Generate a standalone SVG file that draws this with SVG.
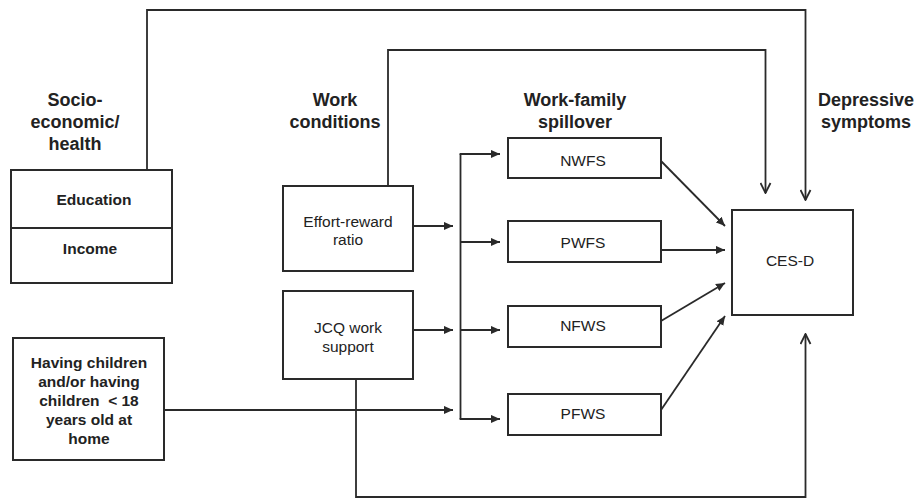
<svg xmlns="http://www.w3.org/2000/svg" width="917" height="498" viewBox="0 0 917 498">
<defs>
<marker id="tri" viewBox="0 0 10 10" refX="10" refY="5" markerWidth="9" markerHeight="9" markerUnits="userSpaceOnUse" orient="auto"><path d="M0,0.5 L10,5 L0,9.5 z" fill="#2a2a2a"/></marker>
<marker id="chev" viewBox="0 0 12 12" refX="11" refY="6" markerWidth="12" markerHeight="12" markerUnits="userSpaceOnUse" orient="auto"><path d="M1,1 L11,6 L1,11" fill="none" stroke="#2a2a2a" stroke-width="1.8"/></marker>
</defs>
<style>
.box{fill:#fff;stroke:#2a2a2a;stroke-width:2}
.ln{fill:none;stroke:#2a2a2a;stroke-width:1.8}
.hd{font-family:"Liberation Sans",Arial,sans-serif;font-weight:bold;font-size:18px;fill:#222;text-anchor:middle}
.bt{font-family:"Liberation Sans",Arial,sans-serif;font-weight:bold;font-size:15.5px;fill:#222;text-anchor:middle}
.rt{font-family:"Liberation Sans",Arial,sans-serif;font-size:15.5px;fill:#222;text-anchor:middle}
</style>
<rect width="917" height="498" fill="#fff"/>
<g id="headers">
<text class="hd" x="75" y="106">Socio-</text>
<text class="hd" x="75" y="128">economic/</text>
<text class="hd" x="75" y="150">health</text>
<text class="hd" x="335" y="106">Work</text>
<text class="hd" x="335" y="128">conditions</text>
<text class="hd" x="575" y="106">Work-family</text>
<text class="hd" x="575" y="128">spillover</text>
<text class="hd" x="866" y="106">Depressive</text>
<text class="hd" x="866" y="128">symptoms</text>
</g>
<g id="connectors">
<path class="ln" d="M147,170 V10 H805.5 V200" marker-end="url(#chev)"/>
<path class="ln" d="M388,186 V50 H765.5 V193" marker-end="url(#chev)"/>
<path class="ln" d="M356,379 V497 H805.5 V334" marker-end="url(#chev)"/>
<path class="ln" d="M413,226 H453" marker-end="url(#tri)"/>
<path class="ln" d="M413,330 H453" marker-end="url(#tri)"/>
<path class="ln" d="M164,410 H453" marker-end="url(#tri)"/>
<path class="ln" d="M460.5,154 V419"/>
<path class="ln" d="M459.6,154 H500" marker-end="url(#tri)"/>
<path class="ln" d="M460.5,242 H500" marker-end="url(#tri)"/>
<path class="ln" d="M460.5,330 H500" marker-end="url(#tri)"/>
<path class="ln" d="M459.6,419 H500" marker-end="url(#tri)"/>
<path class="ln" d="M661,161 L725,226" marker-end="url(#tri)"/>
<path class="ln" d="M661,250 H725" marker-end="url(#tri)"/>
<path class="ln" d="M661,321 L725,283" marker-end="url(#tri)"/>
<path class="ln" d="M661,410 L725,316" marker-end="url(#tri)"/>
</g>
<g id="socio">
<rect class="box" x="11" y="170" width="161" height="113"/>
<line class="ln" x1="11" y1="228" x2="172" y2="228" style="stroke-width:2"/>
<text class="bt" x="94" y="205">Education</text>
<text class="bt" x="90" y="254">Income</text>
</g>
<g id="effort">
<rect class="box" x="283" y="186" width="130" height="85"/>
<text class="rt" x="348" y="227">Effort-reward</text>
<text class="rt" x="348" y="245">ratio</text>
</g>
<g id="jcq">
<rect class="box" x="283" y="291" width="130" height="88"/>
<text class="rt" x="348" y="333">JCQ work</text>
<text class="rt" x="348" y="352">support</text>
</g>
<g id="children">
<rect class="box" x="13" y="338" width="151" height="122"/>
<text class="bt" x="89" y="368">Having children</text>
<text class="bt" x="89" y="387">and/or having</text>
<text class="bt" x="89" y="406">children&#160; &lt; 18</text>
<text class="bt" x="89" y="425">years old at</text>
<text class="bt" x="89" y="444">home</text>
</g>
<g id="nwfs">
<rect class="box" x="508" y="138" width="153" height="40"/>
<text class="rt" x="583" y="166">NWFS</text>
</g>
<g id="pwfs">
<rect class="box" x="508" y="221" width="153" height="41"/>
<text class="rt" x="583" y="248">PWFS</text>
</g>
<g id="nfws">
<rect class="box" x="508" y="306" width="153" height="41"/>
<text class="rt" x="583" y="331">NFWS</text>
</g>
<g id="pfws">
<rect class="box" x="508" y="394" width="153" height="41"/>
<text class="rt" x="583" y="419">PFWS</text>
</g>
<g id="cesd">
<rect class="box" x="732" y="210" width="121" height="105"/>
<text class="rt" x="790" y="266">CES-D</text>
</g>
</svg>
